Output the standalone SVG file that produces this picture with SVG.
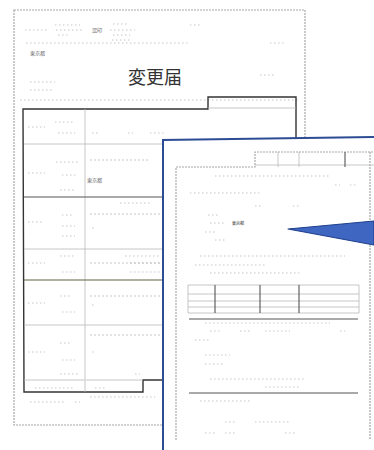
<svg xmlns="http://www.w3.org/2000/svg" width="374" height="450" viewBox="0 0 374 450">
<style>
.page{fill:#fff;stroke:#a8a8a8;stroke-width:1.2;stroke-dasharray:2 1}
.form{fill:none;stroke:#333;stroke-width:1.4}
.thin{stroke:#b8b8b8;stroke-width:0.8;fill:none}
.dark{stroke:#555;stroke-width:1.1;fill:none}
.dots{stroke:#c6c6c6;stroke-width:1.2;stroke-dasharray:1.5 2.5;fill:none}
.t{font-family:"Noto Sans CJK JP","Noto Sans CJK SC",sans-serif;fill:#333}
.small{font-size:5px;fill:#666}
</style>
<rect width="374" height="450" fill="#fff"/>
<g id="back-document">
<rect class="page" x="14" y="10" width="291" height="415"/>
<g class="dots">
<path d="M55 25H80M113 24H128M25 30H48M56 30H82M110 30H135M113 35H130M58 35H70M26 43H190M112 40H132"/>
<path d="M30 82H55M30 90H52M20 100H300"/>
<path d="M190 25H200M270 43H285M260 75H275"/>
<path d="M55 122H75M28 127H45M58 133H75M92 133H100M128 133H133M150 133H165"/>
<path d="M56 162H80M28 173H45M62 175H78M60 190H75"/>
<path d="M62 215H72M28 222H42M62 226H75M62 236H75M92 228H96M120 203H150"/>
<path d="M60 256H75M28 263H45M62 272H75M125 256H160M130 263H160M130 272H160"/>
<path d="M60 296H72M28 303H45M62 312H75M92 305H96"/>
<path d="M60 343H72M28 352H45M62 360H75M92 352H96M60 374H80M135 374H140"/>
<path d="M35 388H75M95 388H105M30 402H65M75 402H80M90 397H155"/>
</g>
<text class="t small" x="30" y="55">東京都</text>
<text class="t small" x="92" y="32" fill="#777">認印</text>
<text class="t" x="155" y="84" font-size="18" text-anchor="middle">変更届</text>
<path class="form" d="M23 109H208V97H296V380H143V392H24Z"/>
<path class="thin" d="M85 109V392M208 108H296M86 144H296M86 249H296M24 325H296M86 380H143M24 144H86M24 249H86"/>
<path class="dark" d="M24 197H296"/>
<path d="M24 280H296" stroke="#5a6640" stroke-width="1.2"/>
<path class="thin" d="M24 380H85"/>
<path class="thin" stroke-dasharray="2 2" d="M90 160H150M90 214H160M90 263H160M90 296H160M90 335H160"/>
<text class="t small" x="87" y="182">東京都</text>
</g>
<g id="front-document">
<path d="M163 140L374 137V450H163Z" fill="#fff"/>
<path d="M163 450V140L374 137" fill="none" stroke="#2c4d94" stroke-width="2"/>
<path class="page" d="M176 440V167H255V152H374M370 152V440" fill="none"/>
<path class="thin" d="M278 152V167M299 152V167M255 165H374"/>
<path class="dark" d="M345 152V167"/>
<g class="dots">
<path d="M215 176H330M335 185H340M350 185H356M190 193H260M255 206H262M293 206H300M208 215H220M210 223H225M205 232H215M215 240H225"/>
<path d="M200 256H345M195 265H265M210 273H300"/>
<path d="M205 323H330M210 331H220M240 331H250M265 331H290M340 331H345M195 340H210M205 355H230M205 364H225"/>
<path d="M210 379H305M265 387H300M200 401H250M225 422H235M255 422H290M205 433H215M225 433H235M285 433H295"/>
</g>
<text class="t" x="232" y="225" font-size="4" fill="#666">東京都</text>
<g id="front-table">
<path class="thin" d="M188 285H359M188 294H359M188 301H359M188 307H359M188 313H359M359 285V313M188 285V313"/>
<path class="dark" d="M215 285V313M260 285V313M299 285V313" stroke="#888" stroke-width="0.9"/>
</g>
<path class="dark" d="M189 319H358M189 393H358" stroke="#888"/>
</g>
<g id="connectors">
<path d="M288 229L374 221V245Z" fill="#3f67c2" stroke="#1f3f8c" stroke-width="1.2" stroke-linejoin="round"/>
</g>
</svg>
